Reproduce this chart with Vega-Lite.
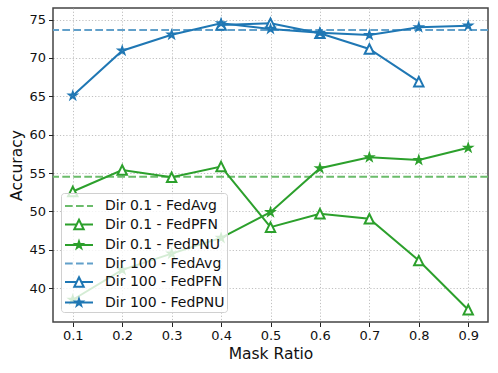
{
  "$schema": "https://vega.github.io/schema/vega-lite/v6.json",
  "width": 435,
  "height": 314,
  "autosize": {"type": "none"},
  "padding": {"left": 53, "top": 8, "right": 10, "bottom": 51},
  "background": "white",
  "config": {
    "font": "DejaVu Sans",
    "view": {"stroke": "#444444", "strokeWidth": 1.5},
    "axis": {
      "domain": false,
      "grid": true,
      "gridColor": "#b0b0b0",
      "gridDash": [1.2, 2],
      "gridWidth": 0.8,
      "tickColor": "#222222",
      "tickSize": 4.5,
      "tickWidth": 1,
      "labelColor": "#111111",
      "labelFontSize": 13,
      "labelPadding": 3,
      "titleFontSize": 15.5,
      "titleFontWeight": "normal",
      "titleColor": "#111111",
      "titlePadding": 4
    }
  },
  "datasets": {
    "main": [
      {"series": "Dir 0.1 - FedAvg", "ratio": null, "acc": 54.53},
      {"series": "Dir 100 - FedAvg", "ratio": null, "acc": 73.64},
      {"series": "Dir 0.1 - FedPFN", "ratio": 0.1, "acc": 52.6},
      {"series": "Dir 0.1 - FedPFN", "ratio": 0.2, "acc": 55.4},
      {"series": "Dir 0.1 - FedPFN", "ratio": 0.3, "acc": 54.45},
      {"series": "Dir 0.1 - FedPFN", "ratio": 0.4, "acc": 55.85},
      {"series": "Dir 0.1 - FedPFN", "ratio": 0.5, "acc": 47.95},
      {"series": "Dir 0.1 - FedPFN", "ratio": 0.6, "acc": 49.7},
      {"series": "Dir 0.1 - FedPFN", "ratio": 0.7, "acc": 49.05},
      {"series": "Dir 0.1 - FedPFN", "ratio": 0.8, "acc": 43.6},
      {"series": "Dir 0.1 - FedPFN", "ratio": 0.9, "acc": 37.2},
      {"series": "Dir 0.1 - FedPNU", "ratio": 0.1, "acc": 38.5},
      {"series": "Dir 0.1 - FedPNU", "ratio": 0.2, "acc": 42.4},
      {"series": "Dir 0.1 - FedPNU", "ratio": 0.3, "acc": 44.5},
      {"series": "Dir 0.1 - FedPNU", "ratio": 0.4, "acc": 46.55},
      {"series": "Dir 0.1 - FedPNU", "ratio": 0.5, "acc": 49.9},
      {"series": "Dir 0.1 - FedPNU", "ratio": 0.6, "acc": 55.63},
      {"series": "Dir 0.1 - FedPNU", "ratio": 0.7, "acc": 57.06},
      {"series": "Dir 0.1 - FedPNU", "ratio": 0.8, "acc": 56.7},
      {"series": "Dir 0.1 - FedPNU", "ratio": 0.9, "acc": 58.3},
      {"series": "Dir 100 - FedPFN", "ratio": 0.4, "acc": 74.29},
      {"series": "Dir 100 - FedPFN", "ratio": 0.5, "acc": 74.51},
      {"series": "Dir 100 - FedPFN", "ratio": 0.6, "acc": 73.2},
      {"series": "Dir 100 - FedPFN", "ratio": 0.7, "acc": 71.16},
      {"series": "Dir 100 - FedPFN", "ratio": 0.8, "acc": 66.9},
      {"series": "Dir 100 - FedPNU", "ratio": 0.1, "acc": 65.08},
      {"series": "Dir 100 - FedPNU", "ratio": 0.2, "acc": 70.94},
      {"series": "Dir 100 - FedPNU", "ratio": 0.3, "acc": 73.02},
      {"series": "Dir 100 - FedPNU", "ratio": 0.4, "acc": 74.51},
      {"series": "Dir 100 - FedPNU", "ratio": 0.5, "acc": 73.77},
      {"series": "Dir 100 - FedPNU", "ratio": 0.6, "acc": 73.28},
      {"series": "Dir 100 - FedPNU", "ratio": 0.7, "acc": 72.98},
      {"series": "Dir 100 - FedPNU", "ratio": 0.8, "acc": 73.99},
      {"series": "Dir 100 - FedPNU", "ratio": 0.9, "acc": 74.2}
    ]
  },
  "data": {"name": "main"},
  "encoding": {
    "y": {
      "field": "acc",
      "type": "quantitative",
      "scale": {"domain": [35.6, 76.5], "nice": false, "zero": false},
      "axis": {"values": [40, 45, 50, 55, 60, 65, 70, 75], "title": "Accuracy"}
    }
  },
  "layer": [
    {
      "transform": [{"filter": "datum.series === 'Dir 0.1 - FedAvg'"}],
      "mark": {"type": "rule", "stroke": "#6bbc6b", "strokeWidth": 2, "strokeDash": [7.7, 3.3]},
      "encoding": {}
    },
    {
      "transform": [{"filter": "datum.series === 'Dir 0.1 - FedPFN'"}],
      "encoding": {
        "x": {
          "field": "ratio",
          "type": "quantitative",
          "scale": {"domain": [0.06, 0.94], "nice": false, "zero": false},
          "axis": {"values": [0.1, 0.2, 0.3, 0.4, 0.5, 0.6, 0.7, 0.8, 0.9], "format": ".1f", "title": "Mask Ratio"}
        }
      },
      "layer": [
        {"mark": {"type": "line", "stroke": "#2ca02c", "strokeWidth": 2}},
        {"mark": {"type": "point", "shape": "M0,-1L1,1L-1,1Z", "size": 88, "filled": true, "fill": "white", "stroke": "#2ca02c", "strokeWidth": 2, "opacity": 1}}
      ]
    },
    {
      "transform": [{"filter": "datum.series === 'Dir 0.1 - FedPNU'"}],
      "encoding": {
        "x": {
          "field": "ratio",
          "type": "quantitative",
          "scale": {"domain": [0.06, 0.94], "nice": false, "zero": false},
          "axis": {"values": [0.1, 0.2, 0.3, 0.4, 0.5, 0.6, 0.7, 0.8, 0.9], "format": ".1f", "title": "Mask Ratio"}
        }
      },
      "layer": [
        {"mark": {"type": "line", "stroke": "#2ca02c", "strokeWidth": 2}},
        {"mark": {"type": "point", "shape": "M0,-1L0.2245,-0.309L0.9511,-0.309L0.3633,0.118L0.5878,0.809L0,0.382L-0.5878,0.809L-0.3633,0.118L-0.9511,-0.309L-0.2245,-0.309Z", "size": 50, "filled": true, "fill": "white", "stroke": "#2ca02c", "strokeWidth": 2, "opacity": 1}}
      ]
    },
    {
      "transform": [{"filter": "datum.series === 'Dir 100 - FedAvg'"}],
      "mark": {"type": "rule", "stroke": "#62a0ca", "strokeWidth": 2, "strokeDash": [7.7, 3.3]},
      "encoding": {}
    },
    {
      "transform": [{"filter": "datum.series === 'Dir 100 - FedPFN'"}],
      "encoding": {
        "x": {
          "field": "ratio",
          "type": "quantitative",
          "scale": {"domain": [0.06, 0.94], "nice": false, "zero": false},
          "axis": {"values": [0.1, 0.2, 0.3, 0.4, 0.5, 0.6, 0.7, 0.8, 0.9], "format": ".1f", "title": "Mask Ratio"}
        }
      },
      "layer": [
        {"mark": {"type": "line", "stroke": "#1f77b4", "strokeWidth": 2}},
        {"mark": {"type": "point", "shape": "M0,-1L1,1L-1,1Z", "size": 88, "filled": true, "fill": "white", "stroke": "#1f77b4", "strokeWidth": 2, "opacity": 1}}
      ]
    },
    {
      "transform": [{"filter": "datum.series === 'Dir 100 - FedPNU'"}],
      "encoding": {
        "x": {
          "field": "ratio",
          "type": "quantitative",
          "scale": {"domain": [0.06, 0.94], "nice": false, "zero": false},
          "axis": {"values": [0.1, 0.2, 0.3, 0.4, 0.5, 0.6, 0.7, 0.8, 0.9], "format": ".1f", "title": "Mask Ratio"}
        }
      },
      "layer": [
        {"mark": {"type": "line", "stroke": "#1f77b4", "strokeWidth": 2}},
        {"mark": {"type": "point", "shape": "M0,-1L0.2245,-0.309L0.9511,-0.309L0.3633,0.118L0.5878,0.809L0,0.382L-0.5878,0.809L-0.3633,0.118L-0.9511,-0.309L-0.2245,-0.309Z", "size": 50, "filled": true, "fill": "white", "stroke": "#1f77b4", "strokeWidth": 2, "opacity": 1}}
      ]
    },
    {
      "transform": [{"filter": "datum.acc < 0"}],
      "mark": {"type": "point", "filled": false, "strokeWidth": 2, "opacity": 1},
      "encoding": {
        "color": {
          "field": "series",
          "type": "nominal",
          "scale": {
            "domain": ["Dir 0.1 - FedAvg", "Dir 0.1 - FedPFN", "Dir 0.1 - FedPNU", "Dir 100 - FedAvg", "Dir 100 - FedPFN", "Dir 100 - FedPNU"],
            "range": ["#6bbc6b", "#2ca02c", "#2ca02c", "#62a0ca", "#1f77b4", "#1f77b4"]
          },
          "legend": {
            "orient": "none",
            "legendX": 8,
            "legendY": 185,
            "title": null,
            "padding": 2,
            "symbolSize": 400,
            "rowPadding": 0.5,
            "labelOffset": 20,
            "labelFontSize": 14,
            "labelColor": "#111111",
            "labelLimit": 300,
            "strokeColor": "#d0d0d0",
            "cornerRadius": 3,
            "fillColor": "rgba(255,255,255,0.8)",
            "symbolStrokeWidth": 2,
            "symbolFillColor": "transparent",
            "symbolOpacity": 1
          }
        },
        "shape": {
          "field": "series",
          "type": "nominal",
          "scale": {
            "domain": ["Dir 0.1 - FedAvg", "Dir 0.1 - FedPFN", "Dir 0.1 - FedPNU", "Dir 100 - FedAvg", "Dir 100 - FedPFN", "Dir 100 - FedPNU"],
            "range": [
              "M-0.9,0H-0.13M0.2,0H0.97M1.3,0H1.9",
              "M-0.9,0H0.265M0.735,0H1.9M0.5,-0.47L0.97,0.47L0.03,0.47Z",
              "M-0.9,0H0.3M0.7,0H1.9M0.5,-0.35L0.5786,-0.1082L0.8329,-0.1082L0.6272,0.0413L0.7057,0.2832L0.5,0.1337L0.2943,0.2832L0.3728,0.0413L0.1671,-0.1082L0.4214,-0.1082Z",
              "M-0.9,0H-0.13M0.2,0H0.97M1.3,0H1.9",
              "M-0.9,0H0.265M0.735,0H1.9M0.5,-0.47L0.97,0.47L0.03,0.47Z",
              "M-0.9,0H0.3M0.7,0H1.9M0.5,-0.35L0.5786,-0.1082L0.8329,-0.1082L0.6272,0.0413L0.7057,0.2832L0.5,0.1337L0.2943,0.2832L0.3728,0.0413L0.1671,-0.1082L0.4214,-0.1082Z"
            ]
          }
        }
      }
    }
  ]
}
